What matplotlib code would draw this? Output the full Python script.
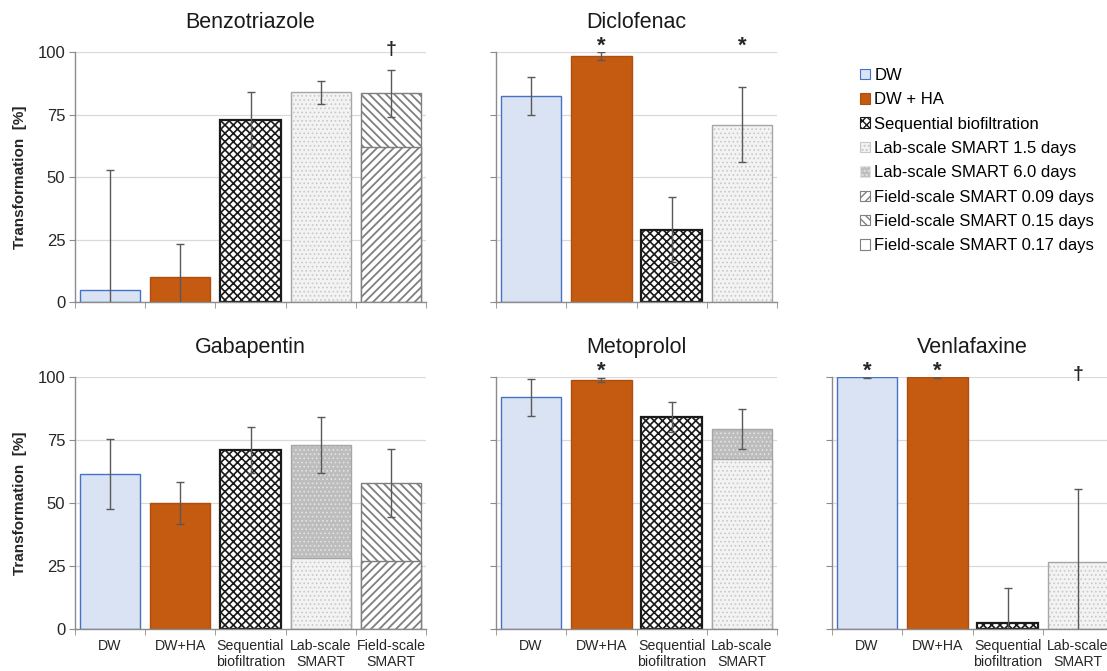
import matplotlib
matplotlib.use("Agg")
import matplotlib.pyplot as plt
from matplotlib.patches import Patch
import numpy as np

plt.rcParams['font.family'] = ['Liberation Sans', 'DejaVu Sans']

# transformation [%] per compound
compounds = ["Benzotriazole", "Diclofenac", "Gabapentin", "Metoprolol", "Venlafaxine"]
dw = [5, 82.5, 61.5, 92, 100]
dw_err = [48, 7.7, 14, 7.3, 0.4]
dw_ha = [10.3, 98.5, 50, 98.8, 100]
dw_ha_err = [13, 1.5, 8.4, 0.8, 0.4]
seq = [73, 29, 71, 84, 2.2]
seq_err = [11, 13, 9, 6, 14]
lab_15 = [84, 71, 28, 67.5, 26.6]
lab_60 = [None, None, 73, 79.5, None]
lab_err = [4.6, 15, 11, 8, 29]
field_009 = [62, None, 27, None, None]
field_015 = [83.5, None, 58, None, None]
field_err = [9.5, None, 13.5, None, None]

cat_labels = ["DW", "DW+HA", "Sequential\nbiofiltration", "Lab-scale\nSMART", "Field-scale\nSMART"]

# significance marks: (compound, category index)
stars = [("Diclofenac", 1), ("Diclofenac", 3), ("Metoprolol", 1),
         ("Venlafaxine", 0), ("Venlafaxine", 1)]
daggers = [("Benzotriazole", 4), ("Venlafaxine", 3)]

legend_labels = ["DW", "DW + HA", "Sequential biofiltration", "Lab-scale SMART 1.5 days",
                 "Lab-scale SMART 6.0 days", "Field-scale SMART 0.09 days",
                 "Field-scale SMART 0.15 days", "Field-scale SMART 0.17 days"]

styles = {
    "dw":    dict(face="#dae3f3", edge="#4472c4", lw=1.0),
    "dwha":  dict(face="#c55a11", edge="#ae4f10", lw=1.0),
    "seq":   dict(face="white", hatch="xxxx", hcol="#1a1a1a", hlw=1.2, edge="#1a1a1a", lw=1.6),
    "lab15": dict(face="#f3f3f3", hatch="....", hcol="#c8c8c8", hlw=0.7, edge="#a6a6a6", lw=1.0),
    "lab60": dict(face="#bdbdbd", hatch="....", hcol="#e3e3e3", hlw=0.7, edge="#a6a6a6", lw=1.0),
    "f009":  dict(face="white", hatch="////", hcol="#7f7f7f", hlw=1.3, edge="#7f7f7f", lw=1.0),
    "f015":  dict(face="white", hatch="\\\\\\\\", hcol="#7f7f7f", hlw=1.3, edge="#7f7f7f", lw=1.0),
    "f017":  dict(face="white", edge="#7f7f7f", lw=1.0),
}
legend_keys = ["dw", "dwha", "seq", "lab15", "lab60", "f009", "f015", "f017"]

W, H = 1107, 671
fig = plt.figure(figsize=(W / 100, H / 100), dpi=100)


def px_axes(x0, x1, ytop, ybot):
    return fig.add_axes([x0 / W, 1 - ybot / H, (x1 - x0) / W, (ybot - ytop) / H])


def draw_bar(ax, x, h, key, width=0.86):
    st = styles[key]
    if "hatch" in st:
        with plt.rc_context({"hatch.linewidth": st["hlw"]}):
            ax.bar(x, h, width, color=st["face"], hatch=st["hatch"],
                   edgecolor=st["hcol"], linewidth=0, zorder=2)
        ax.bar(x, h, width, fill=False, edgecolor=st["edge"], linewidth=st["lw"], zorder=2)
    else:
        ax.bar(x, h, width, color=st["face"], edgecolor=st["edge"],
               linewidth=st["lw"], zorder=2)


def err(ax, x, h, e):
    ax.errorbar(x, h, yerr=e, fmt="none", ecolor="#595959", elinewidth=1.0,
                capsize=3, capthick=1.0, zorder=3)


positions = {
    "Benzotriazole": (75, 426, 52, 302.5),
    "Diclofenac": (496, 777, 52, 302.5),
    "Gabapentin": (75, 426, 377, 629),
    "Metoprolol": (496, 777, 377, 629),
    "Venlafaxine": (832, 1113, 377, 629),
}

for i, name in enumerate(compounds):
    ax = px_axes(*positions[name])
    has_field = field_015[i] is not None
    n = 5 if has_field else 4

    draw_bar(ax, 0, dw[i], "dw")
    err(ax, 0, dw[i], dw_err[i])
    draw_bar(ax, 1, dw_ha[i], "dwha")
    err(ax, 1, dw_ha[i], dw_ha_err[i])
    draw_bar(ax, 2, seq[i], "seq")
    err(ax, 2, seq[i], seq_err[i])
    if lab_60[i] is not None:
        draw_bar(ax, 3, lab_60[i], "lab60")
        draw_bar(ax, 3, lab_15[i], "lab15")
        err(ax, 3, lab_60[i], lab_err[i])
    else:
        draw_bar(ax, 3, lab_15[i], "lab15")
        err(ax, 3, lab_15[i], lab_err[i])
    if has_field:
        draw_bar(ax, 4, field_015[i], "f015")
        draw_bar(ax, 4, field_009[i], "f009")
        err(ax, 4, field_015[i], field_err[i])

    for cname, k in stars:
        if cname == name:
            ax.text(k, 98.0, "*", ha="center", va="bottom", fontsize=16,
                    fontweight="bold", color="#262626", clip_on=False)
    for cname, k in daggers:
        if cname == name:
            ax.text(k, 97.6, "\u2020", ha="center", va="bottom", fontsize=14,
                    fontweight="bold", color="#262626", clip_on=False)

    ax.set_xlim(-0.5, n - 0.5)
    ax.set_ylim(0, 100)
    ax.set_yticks([0, 25, 50, 75, 100])
    ax.yaxis.grid(True, color="#d9d9d9", linewidth=0.9)
    ax.set_axisbelow(True)
    for s in ["top", "right"]:
        ax.spines[s].set_visible(False)
    for s in ["left", "bottom"]:
        ax.spines[s].set_color("#8c8c8c")
        ax.spines[s].set_linewidth(1.0)
    ax.tick_params(axis="y", length=4, color="#8c8c8c", labelsize=12,
                   labelcolor="#262626", pad=3)
    ax.set_xticks(np.arange(n))
    ax.set_xticks(np.arange(n + 1) - 0.5, minor=True)
    ax.tick_params(axis="x", which="major", length=0, pad=7, labelsize=10.2,
                   labelcolor="#262626")
    ax.tick_params(axis="x", which="minor", length=4, color="#8c8c8c")
    if positions[name][2] > 200:
        ax.set_xticklabels(cat_labels[:n])
    else:
        ax.set_xticklabels([])
    if positions[name][0] > 100:
        ax.set_yticklabels([])
    else:
        ax.set_ylabel("Transformation  [%]", fontsize=11, fontweight="bold",
                      color="#262626")
        ax.yaxis.set_label_coords(-0.137, 0.5)
    ax.set_title(name, fontsize=15.5, pad=17, color="#1a1a1a")

handles = []
for key in legend_keys:
    st = styles[key]
    if "hatch" in st:
        handles.append(Patch(facecolor=st["face"], hatch=st["hatch"], edgecolor=st["hcol"],
                             linewidth=0.8))
    else:
        handles.append(Patch(facecolor=st["face"], edgecolor=st["edge"], linewidth=0.8))

fig.legend(handles, legend_labels, loc="upper left", bbox_to_anchor=(860 / W, 1 - 68 / H),
           frameon=False, fontsize=12, handlelength=0.6, handleheight=0.6,
           handletextpad=0.25, labelspacing=0.56, borderpad=0, borderaxespad=0)

fig.savefig("out.png", dpi=100)
